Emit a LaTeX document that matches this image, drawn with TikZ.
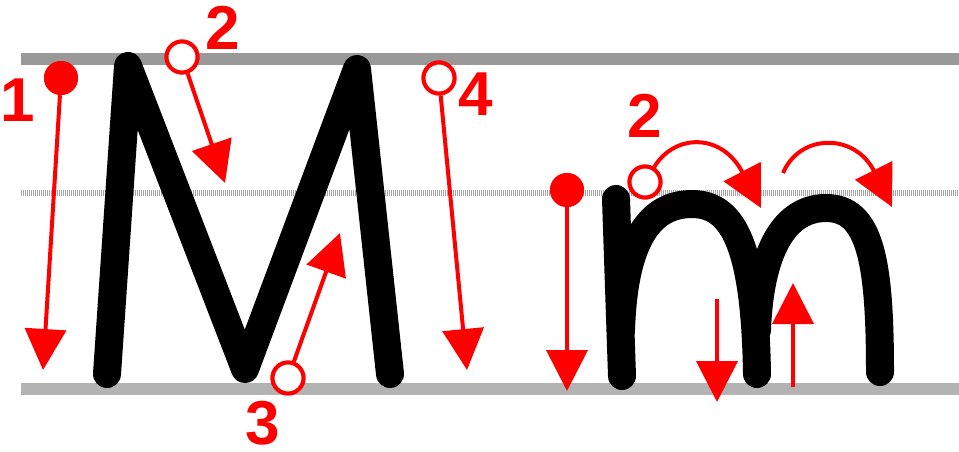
\documentclass[tikz,border=0pt]{standalone}
\usepackage{fontspec}
\setmainfont{Liberation Sans}
\usetikzlibrary{arrows.meta}
\definecolor{myred}{RGB}{255,0,0}
\definecolor{topgray}{RGB}{153,153,153}
\definecolor{botgray}{RGB}{179,179,179}
\definecolor{midgray}{RGB}{165,165,165}
\begin{document}
\begin{tikzpicture}[x=1pt,y=-1pt,
  guide/.style={line width=12pt},
  midguide/.style={draw=midgray,line width=6pt,dash pattern=on 1pt off 1pt},
  letter/.style={line width=28pt,line cap=round,line join=round},
  redarrow/.style={draw=myred,line width=4pt,-{Triangle[length=41pt,width=41pt]}},
  startdot/.style={circle,fill=myred,minimum size=34pt,inner sep=0pt},
  startring/.style={circle,draw=myred,line width=4pt,fill=white,minimum size=31pt,inner sep=0pt},
  num/.style={text=myred,font=\fontsize{62}{62}\selectfont\bfseries,inner sep=0pt}]
\useasboundingbox (0,0) rectangle (959,451);
% guide lines
\draw[guide,topgray] (21,59) -- (959,59);
\draw[guide,botgray] (21,389) -- (959,389);
\draw[midguide] (21,193) -- (959,193);
% letter M
\draw[letter] (107,374) -- (128,66) -- (245,369) -- (357,69) -- (390,374);
% letter m
\draw[letter] (616,199) -- (622,376);
\draw[letter] (621,330) .. controls (624,240) and (650,204) .. (692,204)
  .. controls (735,204) and (755,250) .. (757,374);
\draw[letter] (757,330) .. controls (760,250) and (785,208) .. (826,208)
  .. controls (870,208) and (880,260) .. (880,372);
% stroke start markers
\node[startdot] (d1) at (61,78) {};
\node[startring] (r2) at (182,57) {};
\node[startring] (r3) at (288,378) {};
\node[startring] (r4) at (439,78) {};
\node[startdot] (d5) at (567,190) {};
\node[startring] (r6) at (645,182) {};
% arrow end points
\coordinate (t1) at (43,370);
\coordinate (t2) at (225,183);
\coordinate (t3) at (340,233);
\coordinate (t4) at (467,370);
\coordinate (t5) at (567,391);
\coordinate (t6) at (761,208);
\coordinate (s7) at (783,173);
\coordinate (t7) at (892,207);
\coordinate (s8) at (717,299);
\coordinate (t8) at (717,402);
\coordinate (s9) at (793,387);
\coordinate (t9) at (793,283);
% arrows
\draw[redarrow] (d1) -- (t1);
\draw[redarrow] (r2) -- (t2);
\draw[redarrow] (r3) -- (t3);
\draw[redarrow] (r4) -- (t4);
\draw[redarrow] (d5) -- (t5);
\draw[redarrow] (r6) .. controls (675,133) and (722,133) .. (t6);
\draw[redarrow] (s7) .. controls (800,133) and (855,133) .. (t7);
\draw[redarrow] (s8) -- (t8);
\draw[redarrow] (s9) -- (t9);
% redraw markers on top
\node[startdot] at (d1) {};
\node[startring] at (r2) {};
\node[startring] at (r3) {};
\node[startring] at (r4) {};
\node[startdot] at (d5) {};
\node[startring] at (r6) {};
% numbers
\node[num] (n1) at (18,100) {1};
\node[num] (n2) at (223,28) {2};
\node[num] (n3) at (263,423) {3};
\node[num] (n4) at (476,94) {4};
\node[num] (n5) at (645,116) {2};
\end{tikzpicture}
\end{document}
